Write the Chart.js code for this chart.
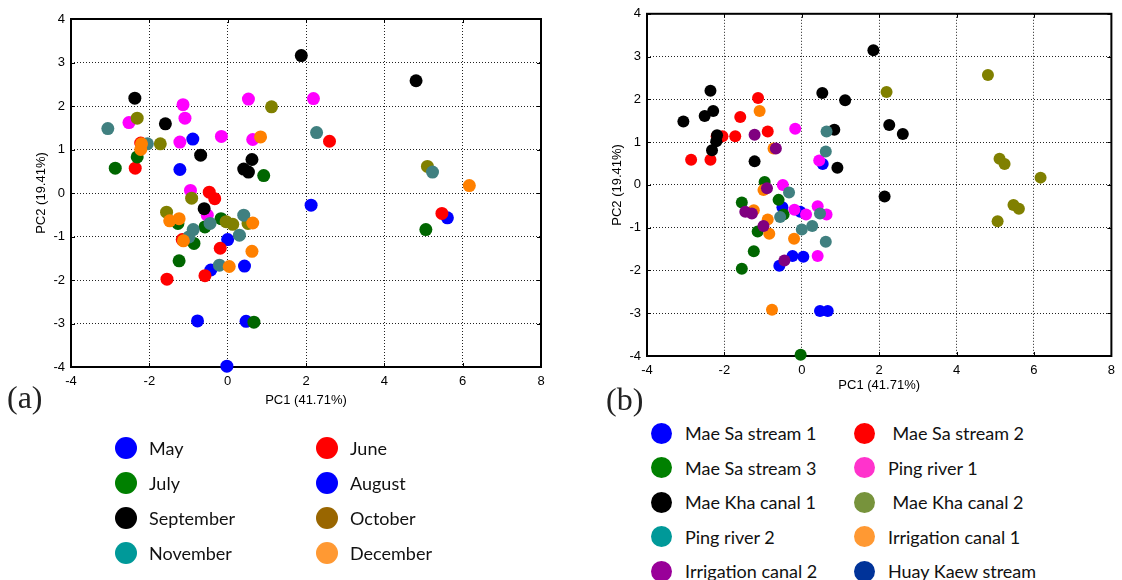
<!DOCTYPE html>
<html>
<head>
<meta charset="UTF-8">
<title>PCA scores</title>
<script src="https://cdn.jsdelivr.net/npm/chart.js"></script>
<style>
  body { margin: 0; background: #fff; width: 1122px; height: 580px; position: relative; overflow: hidden; }
  .box { position: absolute; }
  #boxA { left: 0; top: 0; width: 560px; height: 415px; }
  #boxB { left: 580px; top: 0; width: 542px; height: 395px; }
  .panel-tag { position: absolute; font-family: "Liberation Serif", "Times New Roman", serif; font-size: 32px; color: #222; line-height: 32px; }
  .legend .item { position: absolute; height: 22px; display: flex; align-items: center; white-space: pre;
                  font-family: Lato, "Open Sans", sans-serif; font-size: 18px; color: #111; }
  .legend .dot { position: absolute; border-radius: 50%; }
</style>
</head>
<body>
<div class="box" id="boxA"><canvas id="chartA"></canvas></div>
<div class="box" id="boxB"><canvas id="chartB"></canvas></div>
<div class="panel-tag" style="left:7px; top:381px;">(a)</div>
<div class="panel-tag" style="left:606px; top:383px;">(b)</div>
<div class="legend" id="legendA"></div>
<div class="legend" id="legendB"></div>

<script>
// ---- (a) scores by month ----
const monthLabels = ['May', 'June', 'July', 'August', 'September', 'October', 'November', 'December'];
const monthPointColors = ['#0000ff', '#ff0000', '#006600', '#ff00ff', '#000000', '#808000', '#408080', '#ff8000'];
const monthLegendColors = ['#0000ff', '#ff0000', '#008000', '#0000ff', '#000000', '#996600', '#009999', '#ff9933'];

const aMay = [[-0.89, 1.24], [-1.22, 0.54], [0, -1.07], [-0.43, -1.77], [0.43, -1.68], [-0.77, -2.94], [0.47, -2.95], [-0.02, -3.98], [2.13, -0.28], [5.61, -0.57]];
const aJune = [[-2.22, 1.15], [-2.36, 0.57], [-0.47, 0.02], [-0.33, -0.13], [-1.16, -1.07], [-0.19, -1.27], [-0.58, -1.9], [-1.55, -1.98], [2.6, 1.19], [5.47, -0.47]];
const aJuly = [[-2.31, 0.83], [-2.87, 0.57], [0.92, 0.4], [-1.27, -0.7], [-0.58, -0.78], [-0.17, -0.59], [-0.86, -1.16], [-1.24, -1.56], [0.67, -2.97], [5.06, -0.84]];
const aAugust = [[-2.52, 1.62], [-1.14, 2.03], [-1.09, 1.72], [-1.22, 1.17], [-0.16, 1.3], [0.53, 2.16], [0.64, 1.23], [-0.95, 0.06], [-0.52, -0.51], [2.19, 2.17]];
const aSeptember = [[1.88, 3.16], [-2.37, 2.18], [-1.59, 1.59], [-0.69, 0.87], [0.62, 0.77], [0.41, 0.55], [0.53, 0.48], [-0.6, -0.36], [4.81, 2.58]];
const aOctober = [[-2.31, 1.72], [-1.72, 1.13], [1.12, 1.98], [-0.92, -0.12], [-1.56, -0.44], [-0.04, -0.66], [0.13, -0.72], [0.52, -0.7], [5.1, 0.61]];
const aNovember = [[-3.06, 1.48], [-2.05, 1.13], [-0.45, -0.7], [0.41, -0.51], [-0.88, -0.84], [-0.99, -1.01], [0.3, -0.97], [-0.21, -1.66], [2.27, 1.39], [5.23, 0.48]];
const aDecember = [[-2.2, 1.13], [-2.22, 1.0], [0.84, 1.29], [-1.48, -0.64], [-1.24, -0.59], [0.64, -0.69], [-1.13, -1.1], [0.62, -1.34], [0.04, -1.69], [6.17, 0.17]];
const monthSeries = [aMay, aJune, aJuly, aAugust, aSeptember, aOctober, aNovember, aDecember];

// ---- (b) scores by sampling site ----
const siteLabels = ['Mae Sa stream 1', ' Mae Sa stream 2', 'Mae Sa stream 3', 'Ping river 1', 'Mae Kha canal 1',
                    ' Mae Kha canal 2', 'Ping river 2', 'Irrigation canal 1', 'Irrigation canal 2', 'Huay Kaew stream'];
const sitePointColors = ['#0000ff', '#ff0000', '#006600', '#ff00ff', '#000000', '#808000', '#408080', '#ff8000', '#800080', '#000000'];
const siteLegendColors = ['#0000ff', '#ff0000', '#008000', '#ff33cc', '#000000', '#77933c', '#009999', '#ff9933', '#990099', '#003399'];

const bMaeSa1 = [[0.54, 0.49], [-0.5, -0.52], [-0.04, -0.63], [-0.58, -1.89], [-0.24, -1.66], [0.04, -1.68], [0.47, -2.95], [0.67, -2.95]];
const bMaeSa2 = [[-2.2, 1.14], [-2.05, 1.14], [-1.72, 1.14], [-1.59, 1.59], [-1.13, 2.03], [-0.88, 1.25], [-2.86, 0.59], [-2.36, 0.59]];
const bMaeSa3 = [[-0.96, 0.07], [-0.6, -0.35], [-1.55, -0.41], [-0.47, -0.69], [-1.14, -1.09], [-1.24, -1.55], [-1.55, -1.96], [-0.03, -3.97]];
const bPing1 = [[-0.17, 1.31], [0.45, 0.57], [-0.49, 0.0], [-0.19, -0.58], [0.11, -0.69], [0.41, -0.5], [0.64, -0.69], [0.41, -1.66]];
const bMaeKha1 = [[1.85, 3.15], [0.53, 2.15], [1.12, 1.98], [0.84, 1.29], [0.92, 0.4], [2.26, 1.4], [2.61, 1.19], [2.14, -0.27]];
const bMaeKha2 = [[4.81, 2.57], [2.19, 2.17], [5.11, 0.61], [5.24, 0.49], [6.17, 0.17], [5.47, -0.47], [5.61, -0.56], [5.06, -0.85]];
const bPing2 = [[0.64, 1.25], [0.62, 0.78], [-0.33, -0.18], [-0.56, -0.75], [0.47, -0.67], [0, -1.04], [0.27, -0.96], [0.62, -1.33]];
const bIrrig1 = [[-1.09, 1.73], [-0.73, 0.85], [-0.99, -0.12], [-1.24, -0.59], [-0.88, -0.81], [-0.84, -1.14], [-0.2, -1.26], [-0.77, -2.92]];
const bIrrig2 = [[-1.22, 1.17], [-0.67, 0.85], [-0.9, -0.08], [-1.46, -0.63], [-1.29, -0.67], [-0.99, -0.96], [-0.45, -1.77]];
const bHuayKaew = [[-2.36, 2.2], [-2.51, 1.61], [-2.29, 1.73], [-3.06, 1.48], [-2.19, 1.16], [-2.21, 1.02], [-2.32, 0.81], [-1.22, 0.55]];
const siteSeries = [bMaeSa1, bMaeSa2, bMaeSa3, bPing1, bMaeKha1, bMaeKha2, bPing2, bIrrig1, bIrrig2, bHuayKaew];

// axis ticks
const xMin = -4, xMax = 8, xStep = 2;
const yMin = -4, yMax = 4, yStep = 1;
const xTitle = 'PC1 (41.71%)';
const yTitle = 'PC2 (19.41%)';

Chart.defaults.font.family = '"Liberation Sans", Arial, sans-serif';
Chart.defaults.color = '#000';

// box round the plot with small inward ticks, like the original plotting tool
const framePlugin = {
  id: 'frame',
  beforeDatasetsDraw(chart) {
    const { ctx, chartArea: a, scales } = chart;
    ctx.save();
    ctx.strokeStyle = '#000';
    ctx.lineWidth = 1;
    ctx.beginPath();
    scales.x.ticks.forEach(t => {
      const px = Math.round(scales.x.getPixelForValue(t.value)) + 0.5;
      ctx.moveTo(px, a.top); ctx.lineTo(px, a.top + 4);
      ctx.moveTo(px, a.bottom); ctx.lineTo(px, a.bottom - 4);
    });
    scales.y.ticks.forEach(t => {
      const py = Math.round(scales.y.getPixelForValue(t.value)) + 0.5;
      ctx.moveTo(a.left, py); ctx.lineTo(a.left + 4, py);
      ctx.moveTo(a.right, py); ctx.lineTo(a.right - 4, py);
    });
    ctx.stroke();
    ctx.lineWidth = 2;
    ctx.strokeRect(a.left, a.top, a.right - a.left, a.bottom - a.top);
    ctx.restore();
  }
};

function toPoints(arr) {
  return arr.map(p => ({ x: p[0], y: p[1] }));
}

function makeChart(id, labels, series, colors, radius, dims) {
  const datasets = series.map((s, i) => ({
    label: labels[i].trim(),
    data: toPoints(s),
    backgroundColor: colors[i],
    borderWidth: 0,
    pointRadius: radius,
    pointHoverRadius: radius,
    order: series.length - i,   // later series on top
    clip: false
  }));
  return new Chart(document.getElementById(id), {
    type: 'scatter',
    data: { datasets: datasets },
    options: {
      responsive: true,
      maintainAspectRatio: false,
      animation: false,
      layout: { padding: { top: dims.top, right: dims.right, left: 0, bottom: 0 } },
      plugins: { legend: { display: false }, tooltip: { enabled: false } },
      scales: {
        x: {
          type: 'linear', min: xMin, max: xMax,
          ticks: { stepSize: xStep, padding: 7, font: { size: 13 } },
          grid: { color: '#222', lineWidth: 1, drawTicks: false },
          border: { display: false, dash: [1, 2] },
          title: { display: true, text: xTitle, font: { size: 13 }, padding: { top: 0, bottom: dims.xTitlePad } },
          afterFit: s => { s.height = dims.xAxisH; }
        },
        y: {
          type: 'linear', min: yMin, max: yMax,
          ticks: { stepSize: yStep, padding: 6, font: { size: 13 } },
          grid: { color: '#222', lineWidth: 1, drawTicks: false },
          border: { display: false, dash: [1, 2] },
          title: { display: true, text: yTitle, font: { size: 13 }, padding: { top: dims.yTitlePad, bottom: 0 } },
          afterFit: s => { s.width = dims.yAxisW; }
        }
      }
    },
    plugins: [framePlugin]
  });
}

makeChart('chartA', monthLabels, monthSeries, monthPointColors, 6.5,
  { top: 19, right: 19, xAxisH: 48, yAxisW: 71, xTitlePad: 7, yTitlePad: 34 });
makeChart('chartB', siteLabels, siteSeries, sitePointColors, 6,
  { top: 5, right: 5, xAxisH: 39, yAxisW: 67, xTitlePad: 2, yTitlePad: 30 });

// legends below each panel, two columns, row by row
function buildLegend(elId, labels, colors, cfg) {
  const el = document.getElementById(elId);
  labels.forEach((lab, i) => {
    const col = i % 2, row = Math.floor(i / 2);
    const cy = cfg.y0 + row * cfg.dy;
    const dot = document.createElement('div');
    dot.className = 'dot';
    dot.style.width = dot.style.height = cfg.d + 'px';
    dot.style.left = (cfg.dotX[col] - cfg.d / 2) + 'px';
    dot.style.top = (cy - cfg.d / 2) + 'px';
    dot.style.background = colors[i];
    el.appendChild(dot);
    const item = document.createElement('div');
    item.className = 'item';
    item.style.left = cfg.textX[col] + 'px';
    item.style.top = (cy - 11) + 'px';
    item.textContent = lab;
    el.appendChild(item);
  });
}

buildLegend('legendA', monthLabels, monthLegendColors, { y0: 448, dy: 35, d: 22, dotX: [126, 327], textX: [149, 350] });
buildLegend('legendB', siteLabels, siteLegendColors, { y0: 433, dy: 34.5, d: 21, dotX: [661, 864], textX: [685, 888] });
</script>
</body>
</html>
